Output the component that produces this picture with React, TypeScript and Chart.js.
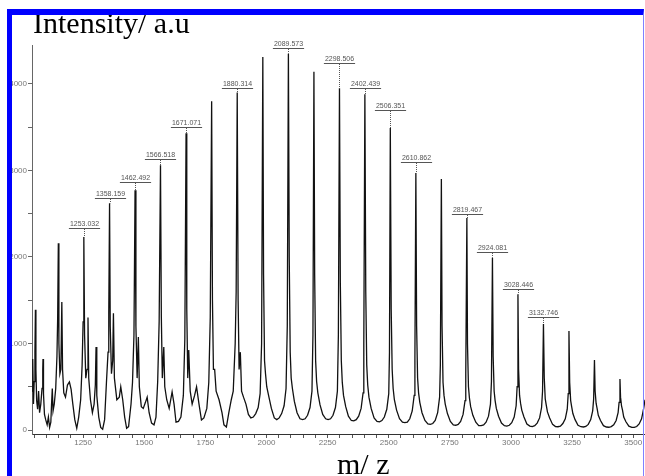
import React, { useEffect, useRef } from 'react';
import { Chart, registerables } from 'chart.js';

Chart.register(...registerables);

// ---- data ----
const spectrumMz: number[] = [
  1041, 1044, 1047, 1050, 1053, 1055, 1057, 1060, 1064, 1068,
  1072, 1077, 1082, 1085, 1086, 1088, 1092, 1097, 1103, 1108,
  1113, 1118, 1121, 1124, 1127, 1132, 1138, 1143, 1146, 1148.7,
  1151, 1155, 1159, 1163, 1166, 1171, 1178, 1186, 1194, 1201,
  1208, 1216, 1224, 1232, 1240, 1246, 1250, 1253, 1256, 1261,
  1266, 1270, 1273, 1280, 1288, 1295, 1300, 1303, 1306, 1314,
  1322, 1330, 1338, 1346, 1352, 1355, 1358.2, 1361, 1366, 1371,
  1374, 1378, 1388, 1398, 1404, 1412, 1420, 1428, 1436, 1446,
  1452, 1458, 1462.5, 1466, 1471, 1476, 1480, 1488, 1496, 1505,
  1512, 1520, 1530, 1540, 1548, 1555, 1561, 1566.5, 1570, 1574,
  1580, 1584, 1592, 1602, 1614, 1622, 1630, 1640, 1650, 1660,
  1666, 1671.1, 1674, 1678, 1682, 1688, 1696, 1706, 1714, 1724,
  1734, 1744, 1756, 1764, 1770, 1775.7, 1779, 1783, 1788, 1794,
  1806, 1818, 1826, 1836, 1846, 1856, 1864, 1872, 1876, 1880.3,
  1884, 1888, 1893, 1898, 1906, 1916, 1926, 1936, 1946, 1956,
  1966, 1974, 1980, 1985, 1988, 1992, 1996, 2001, 2010, 2020,
  2032, 2042, 2052, 2062, 2072, 2080, 2085, 2089.6, 2093, 2097,
  2101, 2106, 2114, 2125, 2137, 2148, 2158, 2168, 2178, 2186,
  2190, 2194, 2197, 2201, 2205, 2210, 2219, 2230, 2242, 2252,
  2262, 2272, 2282, 2290, 2294, 2298.5, 2302, 2306, 2310, 2315,
  2324, 2335, 2347, 2357, 2367, 2377, 2387, 2395, 2398, 2402.4,
  2406, 2410, 2414, 2419, 2428, 2440, 2452, 2462, 2472, 2482,
  2492, 2500, 2503, 2506.4, 2510, 2514, 2518, 2523, 2532, 2544,
  2556, 2566, 2576, 2586, 2596, 2604, 2607, 2610.9, 2614, 2618,
  2622, 2627, 2636, 2648, 2660, 2670, 2680, 2690, 2700, 2708,
  2711, 2715.2, 2718, 2722, 2726, 2731, 2740, 2752, 2764, 2774,
  2784, 2794, 2804, 2812, 2815, 2819.5, 2822, 2826, 2830, 2835,
  2844, 2856, 2868, 2878, 2888, 2898, 2908, 2916, 2920, 2924.1,
  2927, 2931, 2935, 2940, 2949, 2961, 2973, 2983, 2993, 3003,
  3013, 3021, 3025, 3028.4, 3031, 3035, 3039, 3044, 3053, 3065,
  3077, 3087, 3097, 3107, 3117, 3125, 3129, 3132.7, 3136, 3140,
  3144, 3149, 3158, 3170, 3182, 3192, 3202, 3212, 3222, 3230,
  3234, 3237, 3240, 3244, 3248, 3253, 3262, 3274, 3286, 3296,
  3306, 3316, 3326, 3334, 3338, 3341.3, 3344, 3348, 3352, 3357,
  3366, 3378, 3390, 3400, 3410, 3420, 3430, 3438, 3442, 3445.6,
  3448, 3452, 3456, 3461, 3470, 3482, 3494, 3504, 3514, 3524,
  3534, 3542, 3548,
];

const spectrumIntensity: number[] = [
  450, 820, 300, 560, 900, 1390, 700, 340, 240, 450,
  200, 300, 480, 700, 820, 420, 180, 120, 60, 150,
  30, 90, 300, 480, 220, 300, 480, 850, 1300, 2160,
  1000, 650, 700, 1480, 700, 430, 380, 520, 555, 470,
  300, 120, 20, 150, 350, 750, 1250, 2230, 1100, 600,
  700, 1300, 600, 350, 200, 300, 520, 960, 400, 150,
  30, 10, 120, 580, 900, 1350, 2620, 1200, 650, 800,
  1350, 600, 350, 380, 500, 350, 150, 20, 40, 300,
  550, 1100, 2770, 1200, 600, 1075, 500, 270, 250, 320,
  380, 200, 80, 60, 150, 560, 1250, 3060, 1300, 600,
  960, 500, 350, 250, 440, 300, 90, 100, 150, 400,
  1050, 3430, 1400, 600, 925, 450, 300, 400, 500, 300,
  115, 140, 250, 550, 1300, 3800, 1500, 700, 700, 450,
  350, 200, 60, 35, 200, 350, 450, 1000, 1600, 3900,
  1500, 700, 900, 450, 380, 300, 180, 140, 150, 190,
  260, 420, 1000, 4310, 1800, 800, 650, 500, 380, 250,
  140, 120, 140, 190, 280, 480, 1200, 4350, 2000, 900,
  600, 480, 330, 200, 130, 120, 130, 170, 260, 450,
  1100, 4140, 1800, 800, 560, 430, 290, 180, 130, 120,
  130, 170, 260, 450, 1100, 3950, 1700, 800, 550, 400,
  270, 160, 110, 105, 120, 160, 250, 430, 1000, 3880,
  1600, 750, 520, 380, 250, 140, 100, 95, 110, 150,
  240, 420, 900, 3490, 1400, 700, 480, 350, 230, 130,
  90, 85, 90, 130, 220, 400, 850, 2970, 1200, 600,
  430, 320, 200, 110, 70, 65, 75, 110, 200, 380,
  750, 2900, 1200, 550, 400, 300, 190, 100, 60, 55,
  65, 100, 180, 340, 650, 2450, 1000, 500, 370, 270,
  170, 90, 50, 50, 60, 90, 160, 300, 560, 1990,
  850, 450, 340, 250, 160, 80, 50, 45, 55, 85,
  150, 280, 500, 1570, 700, 400, 310, 230, 150, 70,
  45, 40, 50, 80, 140, 260, 450, 1225, 600, 360,
  290, 210, 140, 65, 40, 38, 45, 75, 130, 240,
  420, 1145, 550, 340, 270, 190, 120, 55, 38, 35,
  42, 65, 120, 220, 360, 810, 450, 310, 250, 170,
  110, 50, 35, 32, 40, 60, 110, 200, 320, 590,
  380, 280, 230, 150, 95, 45, 30, 30, 40, 70,
  130, 240, 350,
];

// labelled peaks
const peakLabelMz: number[] = [
  1253, 1358.2, 1462.5, 1566.5, 1671.1, 1880.3, 2089.6, 2298.5,
  2402.4, 2506.4, 2610.9, 2819.5, 2924.1, 3028.4, 3132.7,
];
const peakLabelText: string[] = [
  '1253.032', '1358.159', '1462.492', '1566.518', '1671.071', '1880.314', '2089.573', '2298.506',
  '2402.439', '2506.351', '2610.862', '2819.467', '2924.081', '3028.446', '3132.746',
];

// axis settings
const xMin = 1041;
const xMax = 3548;
const xMinorStep = 50;
const xLabelStep = 250;
const yMin = -46;
const yMax = 4450;
const yTickValues: number[] = [0, 500, 1000, 1500, 2000, 2500, 3000, 3500, 4000];
const yTickLabels: string[] = ['0', '', '1000', '', '2000', '', '3000', '', '4000'];

// label placement (px above the peak apex) - styling only
const peakLabelLift: number[] = [13, 9, 12, 10, 10, 9, 10, 29, 10, 22, 15, 8, 10, 9, 11];

const FONT_SANS = '"Liberation Sans", Arial, sans-serif';

const peakLabelPlugin = {
  id: 'peakLabels',
  afterDatasetsDraw(chart: any) {
    const { ctx } = chart;
    const xs = chart.scales.x;
    const ys = chart.scales.y;
    ctx.save();
    ctx.font = '7px ' + FONT_SANS;
    ctx.fillStyle = '#555';
    ctx.strokeStyle = '#555';
    ctx.lineWidth = 1;
    ctx.textAlign = 'center';
    ctx.textBaseline = 'middle';
    peakLabelMz.forEach((mz, k) => {
      let best = 0;
      let bestD = Infinity;
      spectrumMz.forEach((m, i) => {
        const d = Math.abs(m - mz);
        if (d < bestD) { bestD = d; best = i; }
      });
      const px = Math.round(xs.getPixelForValue(spectrumMz[best])) + 0.5;
      const py = ys.getPixelForValue(spectrumIntensity[best]);
      const ty = Math.round(py - peakLabelLift[k]);
      const text = peakLabelText[k];
      ctx.fillText(text, px, ty);
      const w = ctx.measureText(text).width + 2;
      ctx.beginPath();
      ctx.moveTo(px - w / 2, ty + 4.5);
      ctx.lineTo(px + w / 2, ty + 4.5);
      ctx.stroke();
      ctx.setLineDash([1, 1]);
      ctx.beginPath();
      ctx.moveTo(px, ty + 5);
      ctx.lineTo(px, py);
      ctx.stroke();
      ctx.setLineDash([]);
    });
    ctx.restore();
  },
};

export default function App() {
  const canvasRef = useRef<HTMLCanvasElement | null>(null);

  useEffect(() => {
    if (!canvasRef.current) return;
    const points = spectrumMz.map((m, i) => ({ x: m, y: spectrumIntensity[i] }));
    const chart = new Chart(canvasRef.current, {
      type: 'line',
      data: {
        datasets: [
          {
            data: points,
            borderColor: '#111',
            borderWidth: 1.3,
            pointRadius: 0,
            tension: 0,
            fill: false,
          },
        ],
      },
      options: {
        animation: false,
        responsive: false,
        maintainAspectRatio: false,
        devicePixelRatio: 1,
        layout: { padding: { top: 45, right: 0, left: 0, bottom: 0 } },
        plugins: { legend: { display: false }, tooltip: { enabled: false }, title: { display: false } },
        scales: {
          x: {
            type: 'linear',
            min: xMin,
            max: xMax,
            afterFit: (s: any) => { s.height = 42; },
            ticks: {
              stepSize: xMinorStep,
              includeBounds: false,
              autoSkip: false,
              maxRotation: 0,
              minRotation: 0,
              padding: 0,
              color: '#777',
              font: { size: 8, family: FONT_SANS },
              callback: (v: any) => (Math.round(Number(v)) % xLabelStep === 0 ? String(Math.round(Number(v))) : ''),
            },
            grid: { drawOnChartArea: false, drawTicks: true, tickLength: 4, color: '#555' },
            border: { display: true, color: '#333', width: 1 },
          },
          y: {
            type: 'linear',
            min: yMin,
            max: yMax,
            afterBuildTicks: (s: any) => { s.ticks = yTickValues.map((v) => ({ value: v })); },
            afterFit: (s: any) => { s.width = 32; },
            ticks: {
              autoSkip: false,
              padding: 1,
              color: '#777',
              font: { size: 8, family: FONT_SANS },
              callback: (_v: any, i: number) => yTickLabels[i] ?? '',
            },
            grid: { drawOnChartArea: false, drawTicks: true, tickLength: 4, color: '#666' },
            border: { display: true, color: '#666', width: 1, dash: [1, 1] },
          },
        },
      },
      plugins: [peakLabelPlugin],
    });
    return () => chart.destroy();
  }, []);

  return (
    <div
      style={{
        position: 'fixed',
        left: 0,
        top: 0,
        width: 645,
        height: 476,
        overflow: 'hidden',
        background: '#fff',
      }}
    >
      <canvas ref={canvasRef} width={645} height={476} style={{ position: 'absolute', left: 0, top: 0, width: 645, height: 476 }} />
      <div
        style={{
          position: 'absolute',
          left: 33,
          top: 8,
          fontFamily: '"Liberation Serif", "Times New Roman", serif',
          fontSize: 30,
          lineHeight: '30px',
          color: '#000',
          whiteSpace: 'nowrap',
        }}
      >
        Intensity/ a.u
      </div>
      <div
        style={{
          position: 'absolute',
          left: 337,
          top: 449,
          fontFamily: '"Liberation Serif", "Times New Roman", serif',
          fontSize: 30,
          lineHeight: '30px',
          color: '#000',
          whiteSpace: 'nowrap',
        }}
      >
        m/ z
      </div>
      <div
        style={{
          position: 'absolute',
          left: 7,
          top: 9,
          width: 637,
          height: 500,
          boxSizing: 'border-box',
          borderTop: '6px solid #0000ff',
          borderLeft: '5px solid #0000ff',
          borderRight: '1px solid #8080ff',
          pointerEvents: 'none',
        }}
      />
    </div>
  );
}
